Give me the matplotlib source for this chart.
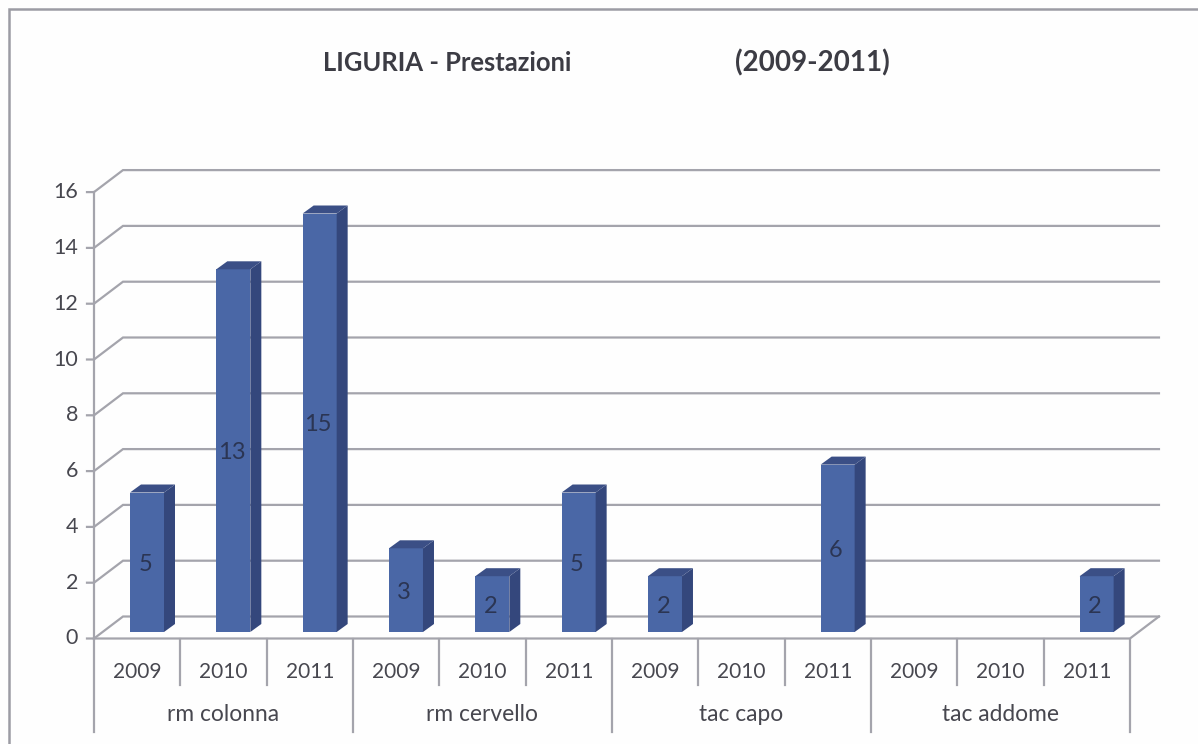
import matplotlib
matplotlib.use("Agg")
import matplotlib.pyplot as plt
from matplotlib.patches import Polygon

plt.rcParams["font.family"] = ["Lato", "DejaVu Sans"]

# dati
years = ["2009", "2010", "2011"]
groups = ["rm colonna", "rm cervello", "tac capo", "tac addome"]
values = [5, 13, 15, 3, 2, 5, 2, None, 6, None, None, 2]
y_ticks = [0, 2, 4, 6, 8, 10, 12, 14, 16]

W, H = 1198, 744
LINE = "#a4a4ac"
TEXT = "#47474f"
FRONT = "#4a67a6"
SIDE = "#34477c"
TOP = "#3b4f86"

fig = plt.figure(figsize=(W / 100, H / 100), dpi=100, facecolor="#fefefe")
ax = fig.add_axes([0, 0, 1, 1])

# scala: una categoria = 86.33 px, una unita = 27.9 px
px_x = 86.33
px_y = 27.9
x0, y0 = 94, 638.5
ax.set_xlim(-x0 / px_x, (W - x0) / px_x)
ax.set_ylim(-(H - y0) / px_y, y0 / px_y)
ax.axis("off")

n = len(values)
back_x = 29 / px_x
back_y = 22 / px_y
tick = 7 / px_x

# griglia in prospettiva
for v in y_ticks:
    ax.plot([-tick, 0, back_x, n + back_x], [v, v, v + back_y, v + back_y],
            color=LINE, lw=1.6, solid_joinstyle="miter", zorder=1)
    ax.text(-16 / px_x, v, str(v), ha="right", va="center", fontsize=15.5, color=TEXT)
ax.plot([0, n, n + back_x], [0, 0, back_y], color=LINE, lw=1.6, zorder=2)
ax.plot([0, 0], [0, 16], color=LINE, lw=1.6, zorder=2)

# assi categorie
short_y = -46 / px_y
long_y = -93 / px_y
for i in range(n + 1):
    bottom = long_y if i % 3 == 0 else short_y
    ax.plot([i, i], [0, bottom], color=LINE, lw=1.6, zorder=2)
for i in range(n):
    ax.text(i + 0.5, -33 / px_y, years[i % 3], ha="center", va="center", fontsize=15, color=TEXT)
for j, name in enumerate(groups):
    ax.text(j * 3 + 1.5, -76 / px_y, name, ha="center", va="center", fontsize=16.4, color=TEXT)

# barre 3d
bar_w = 34 / px_x
bar_off = 36 / px_x
base = 6.5 / px_y
dx = 11 / px_x
dy = 8 / px_y
for i, v in enumerate(values):
    if v is None:
        continue
    left = i + bar_off
    right = left + bar_w
    ax.bar(left, v, width=bar_w, bottom=base, align="edge", color=FRONT, zorder=3)
    top_y = base + v
    ax.add_patch(Polygon([(right, base), (right + dx, base + dy), (right + dx, top_y + dy), (right, top_y)],
                         facecolor=SIDE, edgecolor="none", zorder=3))
    ax.add_patch(Polygon([(left, top_y), (left + dx, top_y + dy), (right + dx, top_y + dy), (right, top_y)],
                         facecolor=TOP, edgecolor="none", zorder=3))
    ax.text(left + bar_w * 0.45, base + v / 2 - 2 / px_y, str(v), ha="center", va="center",
            fontsize=17, color="#2b3553", zorder=4)

# titolo
ax.text((323 - x0) / px_x, (y0 - 63) / px_y, "LIGURIA - Prestazioni", ha="left", va="center",
        fontsize=18.4, fontweight="bold", color="#3c3c44")
ax.text((735 - x0) / px_x, (y0 - 63) / px_y, "(2009-2011)", ha="left", va="center",
        fontsize=20, fontweight="bold", color="#3c3c44")

# bordo del grafico
ax.plot([(9 - x0) / px_x, (9 - x0) / px_x, (W - x0) / px_x],
        [-(H - y0) / px_y, (y0 - 9) / px_y, (y0 - 9) / px_y],
        color="#9c9ca4", lw=1.8, solid_joinstyle="miter", zorder=1)

fig.savefig("out.png", dpi=100, facecolor=fig.get_facecolor())
plt.close(fig)
